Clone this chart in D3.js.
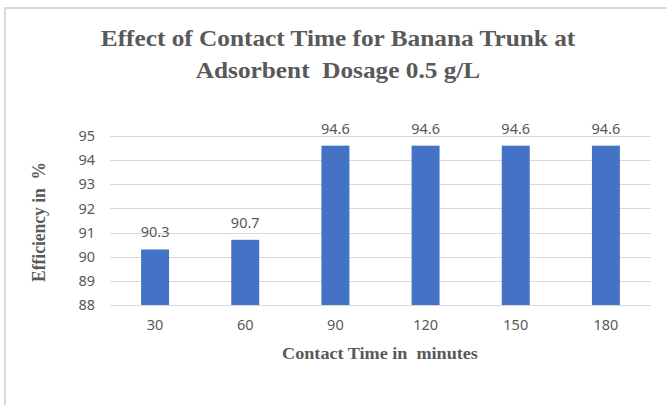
<!DOCTYPE html>
<html>
<head>
<meta charset="utf-8">
<script src="https://cdn.jsdelivr.net/npm/d3@7"></script>
<style>
  html, body { margin: 0; padding: 0; background: #fff; }
  svg text { white-space: pre; }
</style>
</head>
<body>
<svg id="chart" width="667" height="405"></svg>
<script>
// Contact time (minutes) and removal efficiency (%)
const categories = ["30", "60", "90", "120", "150", "180"];
const efficiency = [90.3, 90.7, 94.6, 94.6, 94.6, 94.6];
const yTicks = [88, 89, 90, 91, 92, 93, 94, 95];

const titleLines = ["Effect of Contact Time for Banana Trunk at", "Adsorbent  Dosage 0.5 g/L"];
const xTitle = "Contact Time in  minutes";
const yTitle = "Efficiency in  %";

const svg = d3.select("#chart");
const W = 667, H = 405;
const plot = { left: 110, right: 651, top: 136, bottom: 305 };

const textGray = "#595959";
const sansFont = "Noto Sans, sans-serif";
const serifFont = "Liberation Serif, serif";
const serifStretch = 1.1; // slightly wide serif headings

// chart area frame
svg.append("rect")
  .attr("x", 5).attr("y", 8)
  .attr("width", W).attr("height", H)
  .attr("fill", "#fff")
  .attr("stroke", "#d9d9d9").attr("stroke-width", 2);

const x = d3.scaleBand()
  .domain(categories)
  .range([plot.left, plot.right])
  .paddingInner(0.69)
  .paddingOuter(0.345);

const y = d3.scaleLinear()
  .domain([88, 95])
  .range([plot.bottom, plot.top]);

// horizontal gridlines
svg.append("g")
  .selectAll("line")
  .data(yTicks)
  .join("line")
  .attr("x1", plot.left).attr("x2", plot.right)
  .attr("y1", d => Math.round(y(d)) + 0.5)
  .attr("y2", d => Math.round(y(d)) + 0.5)
  .attr("stroke", "#d9d9d9").attr("stroke-width", 1);

// y axis labels
const yAxis = d3.axisLeft(y).tickValues(yTicks).tickFormat(d3.format("d")).tickSize(0).tickPadding(0);
const gy = svg.append("g")
  .attr("transform", `translate(${plot.left - 15},0)`)
  .call(yAxis);
gy.select(".domain").remove();
gy.selectAll("text")
  .attr("fill", textGray)
  .attr("font-family", sansFont)
  .attr("font-size", 14.5);

// x axis labels
const xAxis = d3.axisBottom(x).tickSize(0).tickPadding(0);
const gx = svg.append("g")
  .attr("transform", `translate(0,${plot.bottom + 15})`)
  .call(xAxis);
gx.select(".domain").remove();
gx.selectAll("text")
  .attr("fill", textGray)
  .attr("font-family", sansFont)
  .attr("font-size", 14.5);

// bars
svg.append("g")
  .selectAll("rect")
  .data(efficiency)
  .join("rect")
  .attr("x", (d, i) => x(categories[i]))
  .attr("width", x.bandwidth())
  .attr("y", d => y(d))
  .attr("height", d => y(88) - y(d))
  .attr("fill", "#4472c4");

// value labels
svg.append("g")
  .selectAll("text")
  .data(efficiency)
  .join("text")
  .attr("x", (d, i) => x(categories[i]) + x.bandwidth() / 2)
  .attr("y", d => y(d) - 12)
  .attr("text-anchor", "middle")
  .attr("fill", textGray)
  .attr("font-family", sansFont)
  .attr("font-size", 14.5)
  .text(d => d.toFixed(1));

// title
svg.append("g")
  .selectAll("text")
  .data(titleLines)
  .join("text")
  .attr("transform", (d, i) => `translate(338,${46 + i * 32}) scale(${serifStretch},1)`)
  .attr("text-anchor", "middle")
  .attr("fill", textGray)
  .attr("font-family", serifFont)
  .attr("font-weight", "bold")
  .attr("font-size", 23)
  .text(d => d);

// axis titles
svg.append("text")
  .attr("transform", `translate(380,359) scale(${serifStretch},1)`)
  .attr("text-anchor", "middle")
  .attr("fill", textGray)
  .attr("font-family", serifFont)
  .attr("font-weight", "bold")
  .attr("font-size", 16.5)
  .text(xTitle);

svg.append("text")
  .attr("transform", `translate(45,222) scale(${serifStretch},1) rotate(-90)`)
  .attr("text-anchor", "middle")
  .attr("fill", textGray)
  .attr("font-family", serifFont)
  .attr("font-weight", "bold")
  .attr("font-size", 17.5)
  .text(yTitle);
</script>
</body>
</html>
